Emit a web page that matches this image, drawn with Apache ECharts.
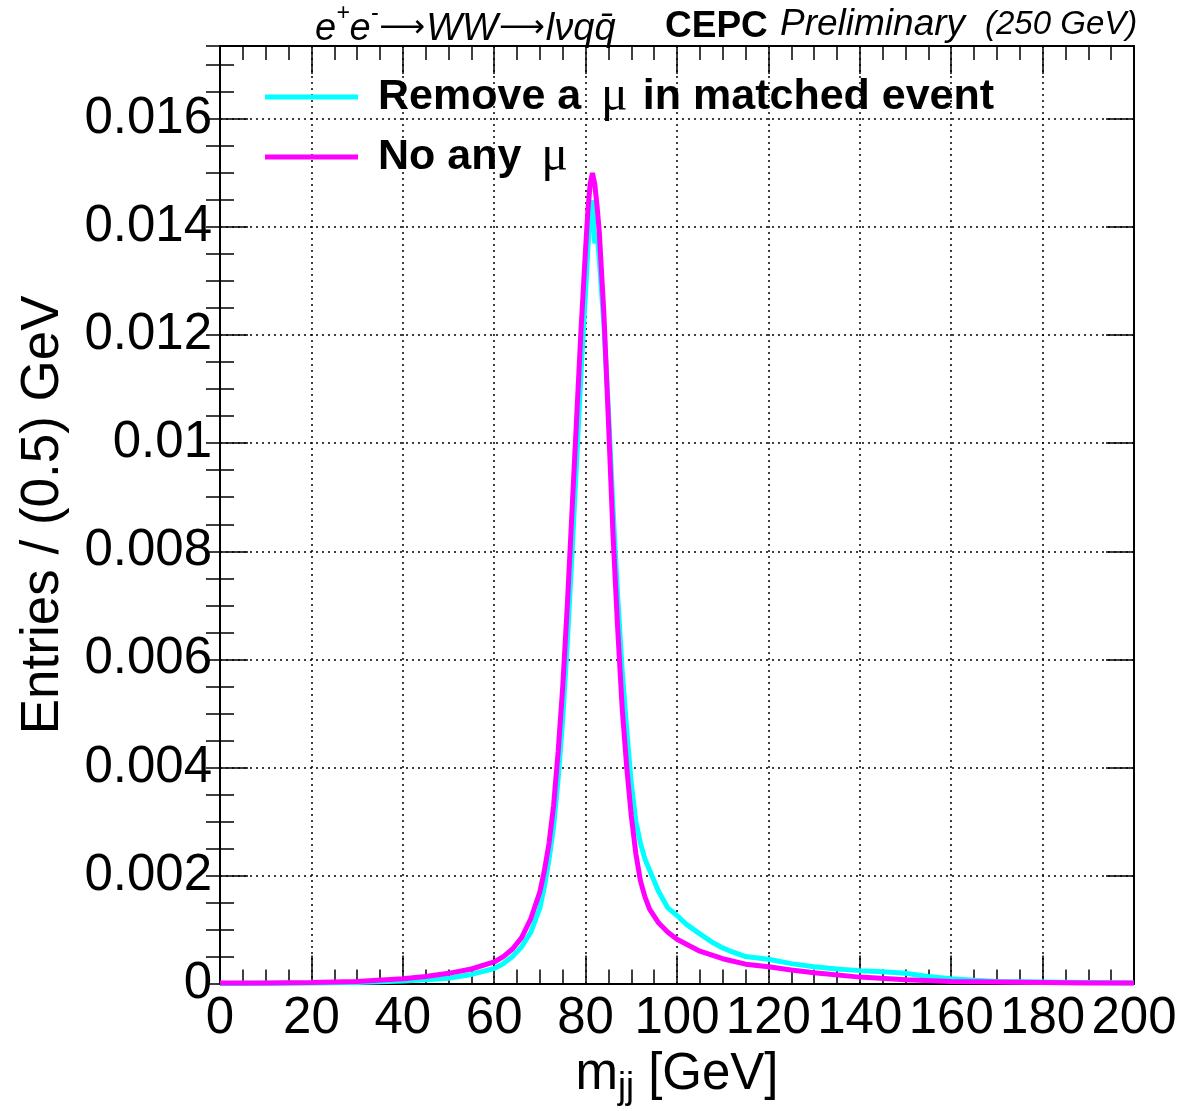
<!DOCTYPE html>
<html>
<head>
<meta charset="utf-8">
<script src="https://cdn.jsdelivr.net/npm/echarts@6/dist/echarts.min.js"></script>
<style>
html,body{margin:0;padding:0;background:#fff;}
#chart{width:1186px;height:1111px;}
</style>
</head>
<body>
<div id="chart"></div>
<script>
// ---- data (m_jj in GeV, entries per 0.5 GeV, normalised) ----
const removeMuX = [0,20,30,40,45,50,55,60,62,64,66,68,70,71,72,73,74,75,76,77,78,79,80,80.5,81,81.5,82,82.5,83,84,85,86,87,88,89,90,91,92,93,94,95,96,97,98,100,102,105,108,110,112,115,120,125,130,135,140,145,150,155,160,165,170,180,190,200];
const removeMuY = [0,0.00001,0.00002,0.00005,0.00007,0.0001,0.00017,0.00028,0.00037,0.0005,0.00068,0.00095,0.0014,0.0018,0.0023,0.0029,0.0038,0.0049,0.0063,0.0079,0.0096,0.0113,0.0128,0.0136,0.0142,0.0145,0.0137,0.0139,0.0134,0.0122,0.0106,0.0088,0.0072,0.0058,0.0047,0.0037,0.0030,0.0026,0.0023,0.0021,0.0019,0.0017,0.00155,0.0014,0.00126,0.0011,0.00092,0.00075,0.00066,0.00059,0.0005,0.00045,0.00037,0.00031,0.00027,0.00024,0.00022,0.00019,0.00013,0.00009,0.00006,0.00004,0.00003,0.00002,0.00001];
const noMuX = [0,10,20,30,40,45,50,55,60,62,64,66,68,70,71,72,73,74,75,76,77,78,79,80,80.5,81,81.5,82,82.5,83,84,85,86,87,88,89,90,91,92,93,94,96,98,100,105,110,115,120,125,130,140,150,160,170,180,190,200];
const noMuY = [0.00001,0.00001,0.00002,0.00004,0.00009,0.00013,0.00019,0.00027,0.0004,0.0005,0.00064,0.00085,0.0012,0.0017,0.0021,0.0026,0.0033,0.0043,0.0055,0.0070,0.0087,0.0104,0.0121,0.0136,0.0143,0.0148,0.0150,0.0148,0.0144,0.0139,0.0124,0.0104,0.0083,0.0066,0.0051,0.0040,0.0031,0.0024,0.0019,0.0016,0.00138,0.00112,0.00095,0.00082,0.0006,0.00046,0.00036,0.00031,0.00025,0.0002,0.00012,0.00007,0.00004,0.00003,0.00002,0.00001,0.00001];
const seriesNames = ['Remove a μ in matched event', 'No any μ'];
const xTickLabels = [0,20,40,60,80,100,120,140,160,180,200];
const yTickLabels = ['0','0.002','0.004','0.006','0.008','0.01','0.012','0.014','0.016'];

const X_MIN = 0, X_MAX = 200, Y_MIN = 0, Y_MAX = 0.01735;

const chart = echarts.init(document.getElementById('chart'), null, {renderer: 'canvas'});
const black = '#000';
const FONT = 'Liberation Sans, Arial, Helvetica, sans-serif';
const SERIF = 'Liberation Serif, Times New Roman, serif';

function pairs(xs, ys){ return xs.map((x,i)=>[x, ys[i]]); }

function yFmt(v){
  const k = v/0.002;
  if (Math.abs(k - Math.round(k)) > 1e-6) return '';
  const idx = Math.round(k);
  return yTickLabels[idx] !== undefined ? yTickLabels[idx] : '';
}
function xFmt(v){
  const i = xTickLabels.indexOf(Math.round(v));
  return (i >= 0 && Math.abs(v - Math.round(v)) < 1e-6) ? String(xTickLabels[i]) : '';
}

const gridLine = {show: true, lineStyle: {color: black, width: 1.5, type: [2, 4]}};

const option = {
  backgroundColor: '#fff',
  animation: false,
  grid: {left: 220, right: 52, top: 46, bottom: 121, containLabel: false},
  xAxis: [
    {
      type: 'value', min: X_MIN, max: X_MAX, interval: 20, position: 'bottom',
      axisLine: {show: true, onZero: false, lineStyle: {color: black, width: 2}},
      axisTick: {show: true, inside: true, length: 28, lineStyle: {color: black, width: 1.5}},
      minorTick: {show: true, splitNumber: 4, length: 14, lineStyle: {color: black, width: 1.5}},
      axisLabel: {show: true, color: black, fontFamily: FONT, fontSize: 51, margin: 10, formatter: xFmt, hideOverlap: false},
      splitLine: gridLine,
      name: 'm{sub|jj} [GeV]', nameLocation: 'middle', nameGap: 55,
      nameTextStyle: {
        color: black, fontFamily: FONT, fontSize: 51,
        rich: {
          sub: {fontFamily: FONT, fontSize: 36, color: black, verticalAlign: 'top', padding: [26, 0, 0, 0]},
        }
      }
    },
    {
      type: 'value', min: X_MIN, max: X_MAX, interval: 20, position: 'top',
      axisLine: {show: true, onZero: false, lineStyle: {color: black, width: 2}},
      axisTick: {show: true, inside: true, length: 28, lineStyle: {color: black, width: 1.5}},
      minorTick: {show: true, splitNumber: 4, length: 14, lineStyle: {color: black, width: 1.5}},
      axisLabel: {show: false},
      splitLine: {show: false}
    }
  ],
  yAxis: [
    {
      type: 'value', min: Y_MIN, max: Y_MAX, interval: 0.002, position: 'left',
      axisLine: {show: true, onZero: false, lineStyle: {color: black, width: 2}},
      axisTick: {show: true, inside: true, length: 28, lineStyle: {color: black, width: 1.5}},
      axisLabel: {show: true, color: black, fontFamily: FONT, fontSize: 51, margin: 8, formatter: yFmt, showMaxLabel: false},
      splitLine: gridLine,
      name: 'Entries / (0.5) GeV', nameLocation: 'middle', nameGap: 150, nameRotate: 90,
      nameTextStyle: {color: black, fontFamily: FONT, fontSize: 53}
    },
    {
      type: 'value', min: Y_MIN, max: Y_MAX, interval: 0.002, position: 'right',
      axisLine: {show: true, onZero: false, lineStyle: {color: black, width: 2}},
      axisTick: {show: true, inside: true, length: 28, lineStyle: {color: black, width: 1.5}},
      axisLabel: {show: false}, splitLine: {show: false}
    },
    {
      type: 'value', min: Y_MIN, max: Y_MAX, interval: 0.0005, position: 'left',
      axisLine: {show: false}, axisLabel: {show: false}, splitLine: {show: false},
      axisTick: {show: true, inside: true, length: 14, lineStyle: {color: black, width: 1.5}}
    },
    {
      type: 'value', min: Y_MIN, max: Y_MAX, interval: 0.0005, position: 'right',
      axisLine: {show: false}, axisLabel: {show: false}, splitLine: {show: false},
      axisTick: {show: true, inside: true, length: 14, lineStyle: {color: black, width: 1.5}}
    }
  ],
  legend: {
    show: true, orient: 'vertical', left: 260, top: 67,
    itemWidth: 93, itemHeight: 5, itemGap: 10, icon: 'rect',
    data: seriesNames,
    formatter: function(name){
      return name.replace('μ', '{mu|μ}');
    },
    textStyle: {
      color: black, fontFamily: FONT, fontSize: 43, fontWeight: 'bold', lineHeight: 48,
      padding: [0, 0, 0, 15],
      rich: {
        mu: {fontFamily: SERIF, fontSize: 50, fontWeight: 'normal', color: black, padding: [0, 3, 0, 8]}
      }
    }
  },
  series: [
    {
      name: seriesNames[0], type: 'line', xAxisIndex: 0, yAxisIndex: 0,
      data: pairs(removeMuX, removeMuY), showSymbol: false, symbol: 'none',
      lineStyle: {color: '#00ffff', width: 5}, itemStyle: {color: '#00ffff'}, z: 3, clip: true
    },
    {
      name: seriesNames[1], type: 'line', xAxisIndex: 0, yAxisIndex: 0,
      data: pairs(noMuX, noMuY), showSymbol: false, symbol: 'none',
      lineStyle: {color: '#ff00ff', width: 5}, itemStyle: {color: '#ff00ff'}, z: 4, clip: true
    }
  ],
  graphic: [
    {
      type: 'text', left: 315, top: 2, silent: true,
      style: {
        text: '{n|e}{s|+}{n|e}{s|-}{a|⟶}{n|WW}{a|⟶}{n|lνqq\u0304}',
        rich: {
          n: {fontFamily: FONT, fontStyle: 'italic', fontSize: 38, lineHeight: 46, verticalAlign: 'bottom', fill: black},
          a: {fontFamily: 'DejaVu Sans', fontSize: 32, lineHeight: 46, verticalAlign: 'bottom', fill: black, padding: [0, 1, 3, 1]},
          s: {fontFamily: FONT, fontStyle: 'italic', fontSize: 23, lineHeight: 46, verticalAlign: 'top', fill: black}
        }
      }
    },
    {
      type: 'text', left: 665, top: 8, silent: true,
      style: {text: 'CEPC', fontFamily: FONT, fontWeight: 'bold', fontSize: 37, fill: black}
    },
    {
      type: 'text', left: 780, top: 6, silent: true,
      style: {text: 'Preliminary', fontFamily: FONT, fontStyle: 'italic', fontSize: 37, fill: black}
    },
    {
      type: 'text', left: 985, top: 8, silent: true,
      style: {text: '(250 GeV)', fontFamily: FONT, fontStyle: 'italic', fontSize: 33, fill: black}
    }
  ]
};
chart.setOption(option);
</script>
</body>
</html>
